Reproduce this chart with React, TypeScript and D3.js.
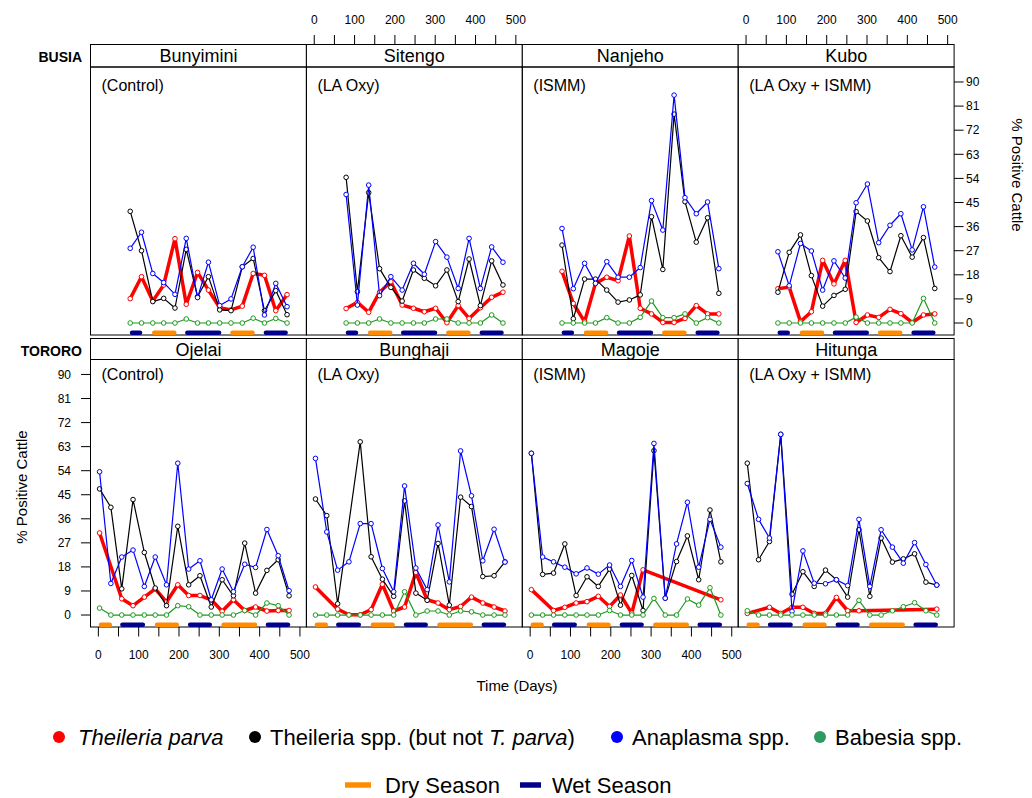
import React from 'react';
import * as d3 from 'd3';

// ---------- data ----------
const daysBusia = [79, 107, 135, 162, 190, 218, 246, 273, 301, 329, 357, 384, 412, 440, 468];
const daysTororo = [3, 31, 58, 86, 114, 141, 169, 197, 224, 252, 280, 307, 335, 363, 390, 418, 446, 473];

const bunyiminiTP = [9.1, 17.3, 8.2, 14.2, 31.5, 7.0, 18.9, 12.3, 5.7, 4.9, 6.3, 18.5, 17.8, 4.6, 10.6];
const bunyiminiTS = [41.7, 27.0, 8.0, 9.2, 5.6, 27.5, 9.8, 17.3, 4.9, 4.6, 21.0, 24.1, 4.6, 12.1, 3.1];
const bunyiminiAN = [27.9, 33.9, 18.5, 15.1, 10.7, 31.6, 9.5, 22.7, 6.5, 9.0, 21.0, 28.3, 3.0, 14.8, 6.1];
const bunyiminiBA = [0, 0, 0, 0, 0, 1.5, 0, 0, 0, 0, 0, 1.8, 0, 1.7, 0];

const sitengoTP = [5.4, 7.7, 4.0, 11.5, 15.4, 6.7, 5.5, 4.2, 5.5, 0.1, 6.5, 1.7, 5.7, 9.6, 11.5];
const sitengoTS = [54.4, 11.7, 48.7, 20.3, 13.3, 8.2, 19.8, 16.7, 13.9, 19.8, 8.0, 23.9, 6.5, 23.2, 14.2];
const sitengoAN = [48.0, 6.7, 51.5, 10.2, 17.3, 12.3, 22.3, 18.2, 30.4, 24.6, 12.9, 31.6, 12.9, 28.4, 22.7];
const sitengoBA = [0, 0, 0, 1.5, 0, 0, 0, 0, 1.5, 1.5, 0, 0, 0, 3.0, 0];

const nanjehoTP = [19.3, 7.3, 0.5, 14.8, 17.1, 15.8, 32.5, 5.5, 3.4, 0.2, 0.2, 1.7, 6.5, 3.4, 3.4];
const nanjehoTS = [29.1, 1.6, 16.4, 16.4, 12.3, 7.8, 8.6, 10.5, 39.7, 20.0, 78.0, 45.3, 30.2, 39.3, 11.1];
const nanjehoAN = [35.3, 12.8, 22.3, 14.8, 22.9, 17.1, 17.1, 20.7, 45.7, 34.7, 85.1, 46.8, 40.8, 45.2, 20.3];
const nanjehoBA = [0, 0, 0, 0, 2.0, 0, 0, 2.1, 8.2, 2.0, 2.0, 3.4, 0, 2.0, 0];

const kuboTP = [12.8, 13.4, 0.5, 4.2, 23.4, 14.6, 23.4, 0.2, 3.0, 2.1, 5.1, 3.5, 0.2, 3.0, 3.4];
const kuboTS = [11.5, 26.4, 32.9, 17.7, 6.3, 10.3, 12.6, 41.6, 38.1, 24.4, 19.2, 32.6, 24.6, 31.9, 12.9];
const kuboAN = [26.6, 13.9, 29.7, 26.9, 12.3, 23.2, 16.8, 44.9, 51.9, 30.0, 36.5, 40.8, 27.3, 43.4, 20.9];
const kuboBA = [0, 0, 0, 0, 0, 0, 0, 2.2, 0, 0, 0, 0, 0, 9.2, 0];

const ojelaiTP = [30.7, null, 6.1, 3.5, 6.7, 9.8, 4.9, 11.3, 7.3, 7.3, 5.7, 1.4, 5.7, 1.7, 3.0, 1.5, 1.7, 1.7];
const ojelaiTS = [47.2, 40.3, 9.8, 43.2, 23.4, 10.1, 3.5, 33.2, 11.3, 14.7, 3.0, 13.2, 7.2, 26.9, 8.2, 16.7, 20.7, 7.2];
const ojelaiAN = [53.6, 11.8, 21.7, 24.3, 10.7, 21.7, 11.3, 56.8, 17.2, 20.3, 5.7, 17.2, 8.7, 19.0, 17.8, 32.0, 22.2, 9.1];
const ojelaiBA = [2.6, 0, 0, 0, 0, 0, 0, 3.5, 3.1, 0, 0, 0, 0, 1.7, 0, 4.5, 3.5, 0];

const bunghajiTP = [10.5, null, 2.2, 0.1, 0.1, 2.0, 11.5, 1.5, 3.0, 15.9, 5.7, 4.5, 2.0, 3.2, 6.7, 4.5, 3.0, 1.5];
const bunghajiTS = [43.4, 37.2, 4.2, null, 64.8, 21.8, 13.4, 7.0, 42.7, 8.2, 5.5, 26.8, 3.7, 44.1, 40.6, 14.4, 14.7, 19.9];
const bunghajiAN = [58.6, 31.1, 16.8, 19.9, 34.2, 34.2, 17.4, 8.7, 48.3, 17.6, 9.5, 33.7, 12.4, 61.4, 44.6, 20.3, 32.1, 19.8];
const bunghajiBA = [0, 0, 0, 0, 0, 0, 0, 0, 8.7, 0, 1.5, 1.5, 0, 1.5, 1.2, 0, 0, 0];

const magojeTP = [9.5, null, 1.7, 2.9, 4.5, 5.0, 7.0, 3.2, 7.5, 0.7, 16.9, null, null, null, null, null, null, 5.7];
const magojeTS = [60.5, 15.2, 15.7, 26.6, 7.3, 14.3, 10.7, 17.2, 3.7, 14.8, 1.7, 61.5, 6.3, 20.0, 29.6, 13.2, 39.3, 19.9];
const magojeAN = [60.5, 21.7, 19.9, 17.9, 15.4, 17.6, 15.3, 18.7, 10.7, 20.4, 6.7, 64.2, 6.3, 26.6, 42.2, 17.9, 35.8, 25.4];
const magojeBA = [0, 0, 0, 0, 0, 0, 0, 1.7, 0, 0, 0, 6.2, 0, 0, 6.0, 3.7, 10.2, 0];

const hitungaTP = [0.6, null, 2.9, 0.6, 2.9, 2.9, 0.6, 0.6, 6.6, 1.6, 1.6, null, null, null, null, null, null, 2.2];
const hitungaTS = [56.8, 20.7, 27.5, 67.6, 7.8, 16.2, 10.7, 16.8, 13.2, 6.7, 31.9, 7.0, 28.8, 19.8, 21.0, 22.9, 12.3, 11.2];
const hitungaAN = [49.2, 35.8, 28.8, 67.6, 1.4, 24.0, 11.9, 11.7, 13.2, 11.0, 35.8, 10.7, 31.9, 25.4, 19.4, 27.1, 18.9, 11.2];
const hitungaBA = [1.6, 0, 0, 0, 0, 0, 0, 0, 0, 0, 5.5, 0, 0, 1.6, 3.1, 4.6, 1.6, 0];

const busiaDry = [[133, 194], [327, 388]];
const busiaWet = [[78, 109], [215, 305], [410, 470]];
const tororoDry = [[1, 34], [140, 200], [305, 394]];
const tororoWet = [[54, 116], [222, 282], [415, 476]];

const yTicks = [0, 9, 18, 27, 36, 45, 54, 63, 72, 81, 90];
const xTicks = [0, 50, 100, 150, 200, 250, 300, 350, 400, 450, 500];
const xLabels = [0, 100, 200, 300, 400, 500];

const seriesNames = ['Theileria parva', 'Theileria spp. (but not T. parva)', 'Anaplasma spp.', 'Babesia spp.'];
const seasonNames = ['Dry Season', 'Wet Season'];

// ---------- styles ----------
const FONT = 'Liberation Sans, Arial, Helvetica, sans-serif';
const C_TP = '#FF0000';
const C_TS = '#000000';
const C_AN = '#0000FF';
const C_BA = '#1E9A1E';
const C_BA_LEG = '#2E9960';
const C_DRY = '#FF8C00';
const C_WET = '#00008B';

const colLeft = [90.5, 306.4, 522.3, 738.2];
const colW = 215.9;
const rows = [
  { stripTop: 44.5, plotTop: 67, plotBottom: 335, days: daysBusia, dry: busiaDry, wet: busiaWet },
  { stripTop: 338.5, plotTop: 359.5, plotBottom: 627, days: daysTororo, dry: tororoDry, wet: tororoWet },
];
const xDomain = [-19.5, 516];
const yDomain = [-4.48, 95.6];

const panels = [
  { name: 'Bunyimini', sub: '(Control)', row: 0, col: 0, tp: bunyiminiTP, ts: bunyiminiTS, an: bunyiminiAN, ba: bunyiminiBA },
  { name: 'Sitengo', sub: '(LA Oxy)', row: 0, col: 1, tp: sitengoTP, ts: sitengoTS, an: sitengoAN, ba: sitengoBA },
  { name: 'Nanjeho', sub: '(ISMM)', row: 0, col: 2, tp: nanjehoTP, ts: nanjehoTS, an: nanjehoAN, ba: nanjehoBA },
  { name: 'Kubo', sub: '(LA Oxy + ISMM)', row: 0, col: 3, tp: kuboTP, ts: kuboTS, an: kuboAN, ba: kuboBA },
  { name: 'Ojelai', sub: '(Control)', row: 1, col: 0, tp: ojelaiTP, ts: ojelaiTS, an: ojelaiAN, ba: ojelaiBA },
  { name: 'Bunghaji', sub: '(LA Oxy)', row: 1, col: 1, tp: bunghajiTP, ts: bunghajiTS, an: bunghajiAN, ba: bunghajiBA },
  { name: 'Magoje', sub: '(ISMM)', row: 1, col: 2, tp: magojeTP, ts: magojeTS, an: magojeAN, ba: magojeBA },
  { name: 'Hitunga', sub: '(LA Oxy + ISMM)', row: 1, col: 3, tp: hitungaTP, ts: hitungaTS, an: hitungaAN, ba: hitungaBA },
];

function Series({ days, values, x, y, color, width }) {
  const pts = values
    .map((v, i) => (v == null ? null : [days[i], v]))
    .filter((p) => p != null);
  const line = d3.line().x((d) => x(d[0])).y((d) => y(d[1]));
  return (
    <g>
      <path d={line(pts) || ''} fill="none" stroke={color} strokeWidth={width} strokeLinejoin="round" />
      {pts.map((p, i) => (
        <circle key={i} cx={x(p[0])} cy={y(p[1])} r={2.3} fill="white" stroke={color} strokeWidth={1} />
      ))}
    </g>
  );
}

function Panel({ p }) {
  const r = rows[p.row];
  const left = colLeft[p.col];
  const x = d3.scaleLinear().domain(xDomain).range([left, left + colW]);
  const y = d3.scaleLinear().domain(yDomain).range([r.plotBottom, r.plotTop]);
  const barY = y(-3.6);
  const bw = 4.5;
  const bar = (rng, color, k) => (
    <line key={k} x1={x(rng[0]) + bw / 2} x2={x(rng[1]) - bw / 2} y1={barY} y2={barY}
      stroke={color} strokeWidth={bw} strokeLinecap="round" />
  );
  return (
    <g>
      <rect x={left} y={r.stripTop} width={colW} height={r.plotTop - r.stripTop} fill="white" stroke="black" strokeWidth={1} />
      <text x={left + colW / 2} y={r.stripTop + 17} textAnchor="middle" fontSize={18} fontFamily={FONT}>{p.name}</text>
      <rect x={left} y={r.plotTop} width={colW} height={r.plotBottom - r.plotTop} fill="none" stroke="black" strokeWidth={1} />
      <text x={left + 11} y={p.row === 0 ? r.plotTop + 24 : r.plotTop + 20} fontSize={16} fontFamily={FONT}>{p.sub}</text>
      {r.dry.map((d, i) => bar(d, C_DRY, 'd' + i))}
      {r.wet.map((d, i) => bar(d, C_WET, 'w' + i))}
      <Series days={r.days} values={p.tp} x={x} y={y} color={C_TP} width={3.5} />
      <Series days={r.days} values={p.ts} x={x} y={y} color={C_TS} width={1.2} />
      <Series days={r.days} values={p.an} x={x} y={y} color={C_AN} width={1.2} />
      <Series days={r.days} values={p.ba} x={x} y={y} color={C_BA} width={1.2} />
    </g>
  );
}

function XAxis({ col, top }) {
  const left = colLeft[col];
  const x = d3.scaleLinear().domain(xDomain).range([left, left + colW]);
  const y0 = top ? rows[0].stripTop : rows[1].plotBottom;
  const dir = top ? -1 : 1;
  return (
    <g>
      {xTicks.map((t) => (
        <line key={t} x1={x(t)} x2={x(t)} y1={y0} y2={y0 + dir * 9.5} stroke="black" strokeWidth={1} />
      ))}
      {xLabels.map((t) => (
        <text key={t} x={x(t)} y={top ? 24 : 659} textAnchor="middle" fontSize={12} fontFamily={FONT}>{t}</text>
      ))}
    </g>
  );
}

function YAxis({ row }) {
  const r = rows[row];
  const y = d3.scaleLinear().domain(yDomain).range([r.plotBottom, r.plotTop]);
  const isLeft = row === 1;
  const x0 = isLeft ? colLeft[0] : colLeft[3] + colW;
  const dir = isLeft ? -1 : 1;
  return (
    <g>
      {yTicks.map((t) => (
        <g key={t}>
          <line x1={x0} x2={x0 + dir * 9.5} y1={y(t)} y2={y(t)} stroke="black" strokeWidth={1} />
          <text x={isLeft ? 71 : 966} y={y(t) + 4.3} textAnchor={isLeft ? 'end' : 'start'} fontSize={12} fontFamily={FONT}>{t}</text>
        </g>
      ))}
    </g>
  );
}

export default function App() {
  const leg1 = [
    { c: C_TP, dot: 59 },
    { c: C_TS, dot: 255 },
    { c: C_AN, dot: 617 },
    { c: C_BA_LEG, dot: 820 },
  ];
  return (
    <svg width={1032} height={798} style={{ position: 'absolute', left: 0, top: 0, background: 'white' }}>
      <rect x={0} y={0} width={1032} height={798} fill="white" />
      {panels.map((p) => <Panel key={p.name} p={p} />)}
      <XAxis col={1} top={true} />
      <XAxis col={3} top={true} />
      <XAxis col={0} top={false} />
      <XAxis col={2} top={false} />
      <YAxis row={0} />
      <YAxis row={1} />
      <text x={82} y={62} textAnchor="end" fontSize={14} fontWeight="bold" fontFamily={FONT}>BUSIA</text>
      <text x={82} y={356} textAnchor="end" fontSize={14} fontWeight="bold" fontFamily={FONT}>TORORO</text>
      <text transform="translate(27,487) rotate(-90)" textAnchor="middle" fontSize={15} fontFamily={FONT}>% Positive Cattle</text>
      <text transform="translate(1012,175) rotate(90)" textAnchor="middle" fontSize={15} fontFamily={FONT}>% Positive Cattle</text>
      <text x={517} y={691} textAnchor="middle" fontSize={15} fontFamily={FONT}>Time (Days)</text>
      {leg1.map((l, i) => (
        <circle key={i} cx={l.dot} cy={737} r={6} fill={l.c} />
      ))}
      <text x={78} y={745} fontSize={22} fontFamily={FONT} fontStyle="italic">{seriesNames[0]}</text>
      <text x={270} y={745} fontSize={22} fontFamily={FONT}>Theileria spp. (but not <tspan fontStyle="italic">T. parva</tspan>)</text>
      <text x={632} y={745} fontSize={22} fontFamily={FONT}>{seriesNames[2]}</text>
      <text x={835} y={745} fontSize={22} fontFamily={FONT}>{seriesNames[3]}</text>
      <line x1={345} x2={371} y1={785} y2={785} stroke={C_DRY} strokeWidth={5.5} />
      <text x={385} y={793} fontSize={22} fontFamily={FONT}>{seasonNames[0]}</text>
      <line x1={520} x2={541} y1={785} y2={785} stroke={C_WET} strokeWidth={5.5} />
      <text x={552} y={793} fontSize={22} fontFamily={FONT}>{seasonNames[1]}</text>
    </svg>
  );
}
